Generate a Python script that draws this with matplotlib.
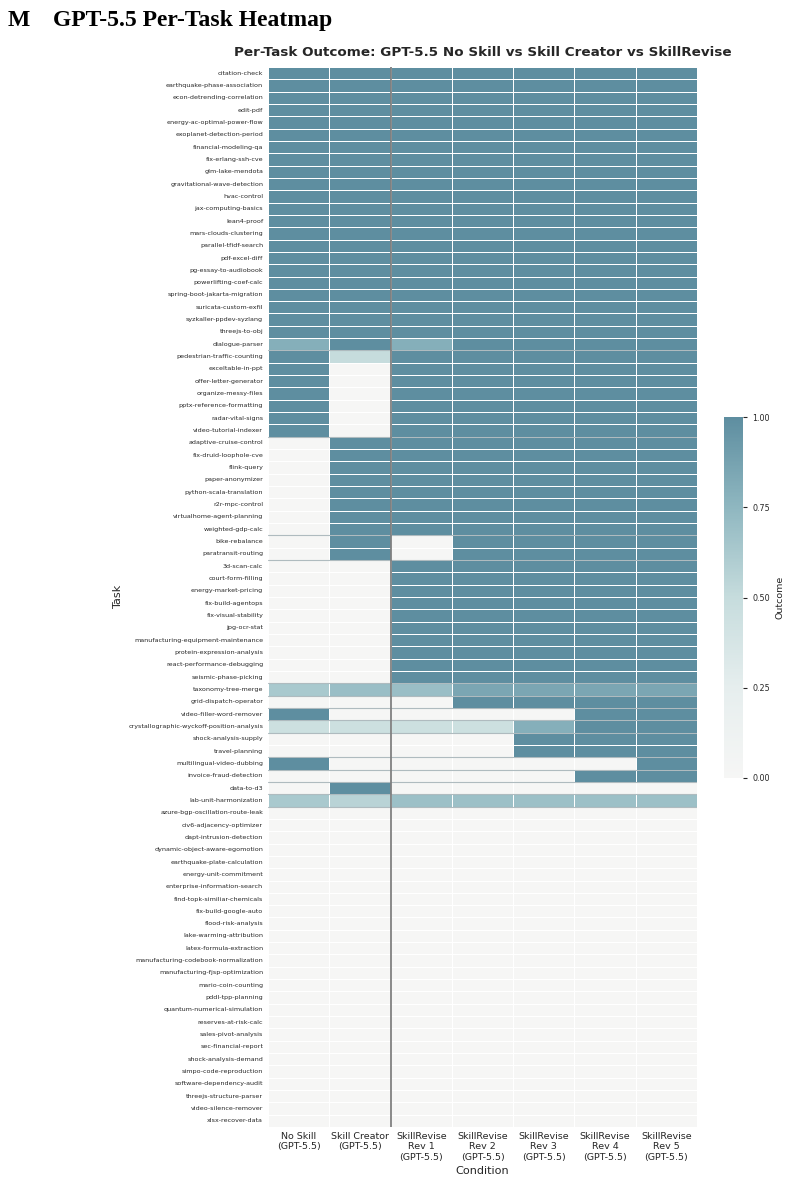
import numpy as np
import pandas as pd
import seaborn as sns
import matplotlib.pyplot as plt
from matplotlib.colors import LinearSegmentedColormap

sns.set_style("white")
plt.rcParams['font.family'] = ['DejaVu Sans']

tasks = [
    "citation-check", "earthquake-phase-association", "econ-detrending-correlation", "edit-pdf",
    "energy-ac-optimal-power-flow", "exoplanet-detection-period", "financial-modeling-qa",
    "fix-erlang-ssh-cve", "glm-lake-mendota", "gravitational-wave-detection", "hvac-control",
    "jax-computing-basics", "lean4-proof", "mars-clouds-clustering", "parallel-tfidf-search",
    "pdf-excel-diff", "pg-essay-to-audiobook", "powerlifting-coef-calc",
    "spring-boot-jakarta-migration", "suricata-custom-exfil", "syzkaller-ppdev-syzlang",
    "threejs-to-obj", "dialogue-parser", "pedestrian-traffic-counting", "exceltable-in-ppt",
    "offer-letter-generator", "organize-messy-files", "pptx-reference-formatting",
    "radar-vital-signs", "video-tutorial-indexer", "adaptive-cruise-control",
    "fix-druid-loophole-cve", "flink-query", "paper-anonymizer", "python-scala-translation",
    "r2r-mpc-control", "virtualhome-agent-planning", "weighted-gdp-calc", "bike-rebalance",
    "paratransit-routing", "3d-scan-calc", "court-form-filling", "energy-market-pricing",
    "fix-build-agentops", "fix-visual-stability", "jpg-ocr-stat",
    "manufacturing-equipment-maintenance", "protein-expression-analysis",
    "react-performance-debugging", "seismic-phase-picking", "taxonomy-tree-merge",
    "grid-dispatch-operator", "video-filler-word-remover",
    "crystallographic-wyckoff-position-analysis", "shock-analysis-supply", "travel-planning",
    "multilingual-video-dubbing", "invoice-fraud-detection", "data-to-d3",
    "lab-unit-harmonization", "azure-bgp-oscillation-route-leak", "civ6-adjacency-optimizer",
    "dapt-intrusion-detection", "dynamic-object-aware-egomotion", "earthquake-plate-calculation",
    "energy-unit-commitment", "enterprise-information-search", "find-topk-similiar-chemicals",
    "fix-build-google-auto", "flood-risk-analysis", "lake-warming-attribution",
    "latex-formula-extraction", "manufacturing-codebook-normalization",
    "manufacturing-fjsp-optimization", "mario-coin-counting", "pddl-tpp-planning",
    "quantum-numerical-simulation", "reserves-at-risk-calc", "sales-pivot-analysis",
    "sec-financial-report", "shock-analysis-demand", "simpo-code-reproduction",
    "software-dependency-audit", "threejs-structure-parser", "video-silence-remover",
    "xlsx-recover-data",
]

conditions = [
    "No Skill\n(GPT-5.5)", "Skill Creator\n(GPT-5.5)",
    "SkillRevise\nRev 1\n(GPT-5.5)", "SkillRevise\nRev 2\n(GPT-5.5)",
    "SkillRevise\nRev 3\n(GPT-5.5)", "SkillRevise\nRev 4\n(GPT-5.5)",
    "SkillRevise\nRev 5\n(GPT-5.5)",
]

# outcome per condition, rows in task order (groups: 22 | 2 | 6 | 8 | 2 | 10 | 10 singles | 26)
no_skill = [1]*22 + [0.8, 1] + [1]*6 + [0]*8 + [0]*2 + [0]*10 + \
    [0.63, 0, 1, 0.45, 0, 0, 1, 0, 0, 0.63] + [0]*26
skill_creator = [1]*22 + [1, 0.5] + [0]*6 + [1]*8 + [1]*2 + [0]*10 + \
    [0.7, 0, 0, 0.45, 0, 0, 0, 0, 1, 0.56] + [0]*26
rev1 = [1]*22 + [0.8, 1] + [1]*6 + [1]*8 + [0]*2 + [1]*10 + \
    [0.7, 0, 0, 0.45, 0, 0, 0, 0, 0, 0.69] + [0]*26
rev2 = [1]*22 + [1, 1] + [1]*6 + [1]*8 + [1]*2 + [1]*10 + \
    [0.85, 1, 0, 0.45, 0, 0, 0, 0, 0, 0.69] + [0]*26
rev3 = [1]*22 + [1, 1] + [1]*6 + [1]*8 + [1]*2 + [1]*10 + \
    [0.85, 1, 0, 0.8, 1, 1, 0, 0, 0, 0.69] + [0]*26
rev4 = [1]*22 + [1, 1] + [1]*6 + [1]*8 + [1]*2 + [1]*10 + \
    [0.85, 1, 1, 1, 1, 1, 0, 1, 0, 0.69] + [0]*26
rev5 = [1]*22 + [1, 1] + [1]*6 + [1]*8 + [1]*2 + [1]*10 + \
    [0.85, 1, 1, 1, 1, 1, 1, 1, 0, 0.69] + [0]*26

# rows after which a group separator is drawn
group_breaks = [23, 30, 38, 40, 50, 51, 52, 53, 54, 56, 57, 58, 59, 60]

df = pd.DataFrame(np.array([no_skill, skill_creator, rev1, rev2, rev3, rev4, rev5]).T,
                  index=tasks, columns=conditions)

cmap = LinearSegmentedColormap.from_list(
    "outcome", [(0, "#f6f6f5"), (0.25, "#e6eeee"), (0.5, "#c6dcdd"),
                (0.75, "#8fb7c0"), (1.0, "#5e8ea0")])

fig = plt.figure(figsize=(7.93, 11.83), dpi=100)
ax = fig.add_axes([0.338, 0.0473, 0.541, 0.8961])
cax = fig.add_axes([0.913, 0.3424, 0.024, 0.305])

sns.heatmap(df, ax=ax, cmap=cmap, vmin=0, vmax=1, linewidths=0.6, linecolor='white',
            cbar_ax=cax, yticklabels=True)

for b in group_breaks:
    ax.axhline(b, color='#8e9ea5', lw=0.8, alpha=0.7)
ax.axvline(2, color='#808080', lw=1.3)

ax.tick_params(axis='both', length=0)
ax.set_yticklabels(tasks, fontsize=4.55, color='.15')
ax.set_xticklabels(conditions, fontsize=6.8, rotation=0, color='.15', va='top',
                   linespacing=1.2)
ax.set_xlabel("Condition", fontsize=8.1, color='.15', labelpad=3)
ax.set_ylabel("Task", fontsize=8.1, color='.15')
ax.set_title("Per-Task Outcome: GPT-5.5 No Skill vs Skill Creator vs SkillRevise",
             fontsize=9.7, fontweight='bold', pad=8, color='.15')

cbar = ax.collections[0].colorbar
cbar.set_ticks([0, 0.25, 0.5, 0.75, 1.0])
cbar.set_ticklabels(["0.00", "0.25", "0.50", "0.75", "1.00"])
cbar.ax.tick_params(labelsize=5.8, length=3, width=0.8, colors='.15')
cbar.set_label("Outcome", fontsize=6.8, color='.15')
cbar.outline.set_visible(False)

fig.text(8/793, 1 - 26/1183, "M", fontsize=17, fontweight='bold',
         family='Liberation Serif', va='baseline', color='black')
fig.text(53/793, 1 - 26/1183, "GPT-5.5 Per-Task Heatmap", fontsize=17, fontweight='bold',
         family='Liberation Serif', va='baseline', color='black')

fig.savefig("out.png", dpi=100)
